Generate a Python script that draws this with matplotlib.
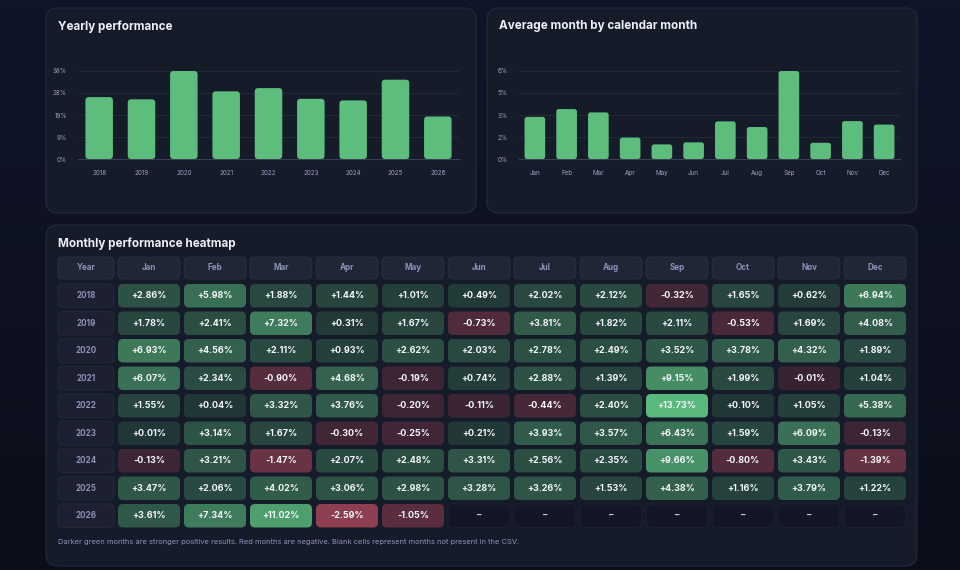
import numpy as np
import matplotlib
matplotlib.use("Agg")
import matplotlib.pyplot as plt
from matplotlib.patches import FancyBboxPatch
from matplotlib.colors import to_rgb

plt.rcParams["font.family"] = ["Inter", "DejaVu Sans"]

# ---------- data ----------
years = ["2018", "2019", "2020", "2021", "2022", "2023", "2024", "2025", "2026"]
months = ["Jan", "Feb", "Mar", "Apr", "May", "Jun", "Jul", "Aug", "Sep", "Oct", "Nov", "Dec"]

yearly_return = [26.69, 25.74, 37.96, 29.18, 30.58, 25.96, 25.28, 34.21, 18.33]
month_avg = [2.91, 3.45, 3.22, 1.48, 1.01, 1.15, 2.60, 2.21, 6.08, 1.12, 2.62, 2.38]

monthly = [
    [2.86, 5.98, 1.88, 1.44, 1.01, 0.49, 2.02, 2.12, -0.32, 1.65, 0.62, 6.94],
    [1.78, 2.41, 7.32, 0.31, 1.67, -0.73, 3.81, 1.82, 2.11, -0.53, 1.69, 4.08],
    [6.93, 4.56, 2.11, 0.93, 2.62, 2.03, 2.78, 2.49, 3.52, 3.78, 4.32, 1.89],
    [6.07, 2.34, -0.90, 4.68, -0.19, 0.74, 2.88, 1.39, 9.15, 1.99, -0.01, 1.04],
    [1.55, 0.04, 3.32, 3.76, -0.20, -0.11, -0.44, 2.40, 13.73, 0.10, 1.05, 5.38],
    [0.01, 3.14, 1.67, -0.30, -0.25, 0.21, 3.93, 3.57, 6.43, 1.59, 6.09, -0.13],
    [-0.13, 3.21, -1.47, 2.07, 2.48, 3.31, 2.56, 2.35, 9.66, -0.80, 3.43, -1.39],
    [3.47, 2.06, 4.02, 3.06, 2.98, 3.28, 3.26, 1.53, 4.38, 1.16, 3.79, 1.22],
    [3.61, 7.34, 11.02, -2.59, -1.05, None, None, None, None, None, None, None],
]

note = ("Darker green months are stronger positive results. Red months are negative. "
        "Blank cells represent months not present in the CSV.")

# ---------- colours ----------
PANEL = "#161b2a"
PANEL_EDGE = "#262b3c"
BAR = "#5dbd7d"
TICK = "#98a1c4"
GRID = "#232838"
MUTED = "#8a93b8"
GREEN = np.array(to_rgb("#5cbf7f"))
RED = np.array(to_rgb("#924053"))
BASE = np.array(to_rgb("#141826"))


def cell_color(v, pos_max, neg_max):
    if v >= 0:
        t = 0.18 + 0.78 * v / pos_max
        return BASE + (GREEN - BASE) * t
    t = 0.28 + 0.68 * abs(v) / neg_max
    return BASE + (RED - BASE) * t


fig = plt.figure(figsize=(9.6, 5.7), dpi=100)

# background axes in pixel units
bg = fig.add_axes([0, 0, 1, 1])
bg.set_xlim(0, 960)
bg.set_ylim(570, 0)
bg.axis("off")
grad = np.linspace(0, 1, 256).reshape(-1, 1)
bg.imshow(grad, extent=[0, 960, 570, 0], aspect="auto", zorder=0,
          cmap=matplotlib.colors.LinearSegmentedColormap.from_list("bg", ["#10152a", "#0b0e19"]))


def panel(x0, y0, x1, y1, title):
    bg.add_patch(FancyBboxPatch((x0, y0), x1 - x0, y1 - y0,
                                boxstyle="round,pad=0,rounding_size=12",
                                fc=PANEL, ec=PANEL_EDGE, lw=0.8, zorder=1))
    bg.text(x0 + 12, y0 + 18.5, title, color="#eef0f7", fontsize=8.4, fontweight="bold",
            va="center", ha="left", zorder=3)


panel(46, 8, 476, 213, "Yearly performance")
panel(487, 8, 917, 213, "Average month by calendar month")
panel(46, 225, 917, 566, "Monthly performance heatmap")


def pct_label(v):
    return f"{int(np.floor(v + 0.5))}%"


def bar_chart(rect, labels, values):
    ax = fig.add_axes(rect)
    ax.patch.set_alpha(0)
    x = np.arange(len(labels))
    vmax = max(values)
    ax.set_xlim(-0.5, len(labels) - 0.5)
    ax.set_ylim(0, vmax)
    bars = ax.bar(x, values, width=0.65, color=BAR)
    # replace the square bars with rounded ones
    bbox = ax.get_position()
    w_px = bbox.width * 960
    h_px = bbox.height * 570
    aspect = (vmax / h_px) / (len(labels) / w_px)
    for b in bars:
        b.set_visible(False)
        ax.add_patch(FancyBboxPatch((b.get_x(), 0), b.get_width(), b.get_height(),
                                    boxstyle="round,pad=0,rounding_size=0.08",
                                    mutation_aspect=aspect, fc=BAR, ec="none",
                                    zorder=3, clip_on=False))
    ticks = np.linspace(0, vmax, 5)
    ax.set_yticks(ticks)
    ax.set_yticklabels([pct_label(t) for t in ticks])
    ax.set_xticks(x)
    ax.set_xticklabels(labels)
    ax.grid(axis="y", color=GRID, lw=0.8)
    ax.set_axisbelow(True)
    for s in ["top", "right", "left"]:
        ax.spines[s].set_visible(False)
    ax.spines["bottom"].set_color("#3a3f55")
    ax.spines["bottom"].set_linewidth(0.8)
    ax.tick_params(axis="both", length=0, labelsize=4.5, labelcolor=TICK)
    ax.tick_params(axis="y", pad=8)
    ax.tick_params(axis="x", pad=8)
    return ax


bar_chart([78 / 960, 1 - 159 / 570, 381 / 960, 88 / 570], years, yearly_return)
bar_chart([519 / 960, 1 - 159 / 570, 381 / 960, 88 / 570], months, month_avg)

# ---------- heatmap ----------
X0, YEAR_W, COL_W, GAP = 58, 56, 62, 4
Y0, HEAD_H, ROW_H, ROW_GAP = 257, 22, 23.5, 4
radius = 5

vals = [v for row in monthly for v in row if v is not None]
pos_max = max(vals)
neg_max = abs(min(vals))


def cell(x, y, w, h, fc, ec="none", lw=0):
    bg.add_patch(FancyBboxPatch((x, y), w, h, boxstyle=f"round,pad=0,rounding_size={radius}",
                                fc=fc, ec=ec, lw=lw, zorder=2))


def col_x(j):
    return X0 + YEAR_W + GAP + j * (COL_W + GAP)


# header row
cell(X0, Y0, YEAR_W, HEAD_H, "#212637", "#2a2f41", 0.6)
bg.text(X0 + YEAR_W / 2, Y0 + HEAD_H / 2, "Year", color=MUTED, fontsize=5.8,
        fontweight="bold", ha="center", va="center", zorder=3)
for j, m in enumerate(months):
    cell(col_x(j), Y0, COL_W, HEAD_H, "#212637", "#2a2f41", 0.6)
    bg.text(col_x(j) + COL_W / 2, Y0 + HEAD_H / 2, m, color=MUTED, fontsize=5.8,
            fontweight="bold", ha="center", va="center", zorder=3)

for i, yr in enumerate(years):
    y = Y0 + HEAD_H + 5 + i * (ROW_H + ROW_GAP)
    cell(X0, y, YEAR_W, ROW_H, "#1c2030", "#262b3c", 0.6)
    bg.text(X0 + YEAR_W / 2, y + ROW_H / 2, yr, color=MUTED, fontsize=5.8,
            fontweight="bold", ha="center", va="center", zorder=3)
    for j, v in enumerate(monthly[i]):
        if v is None:
            cell(col_x(j), y, COL_W, ROW_H, "#131725", "#1e2232", 0.6)
            bg.text(col_x(j) + COL_W / 2, y + ROW_H / 2, "–", color="#d4d8e4", fontsize=6.5,
                    fontweight="bold", ha="center", va="center", zorder=3)
        else:
            cell(col_x(j), y, COL_W, ROW_H, cell_color(v, pos_max, neg_max))
            bg.text(col_x(j) + COL_W / 2, y + ROW_H / 2, f"{v:+.2f}%", color="#f4f6fa",
                    fontsize=6.5, fontweight="bold", ha="center", va="center", zorder=3)

bg.text(58, 542, note, color=MUTED, fontsize=5.4, ha="left", va="center", zorder=3)

fig.savefig("out.png", dpi=100, facecolor="#0e1220")
